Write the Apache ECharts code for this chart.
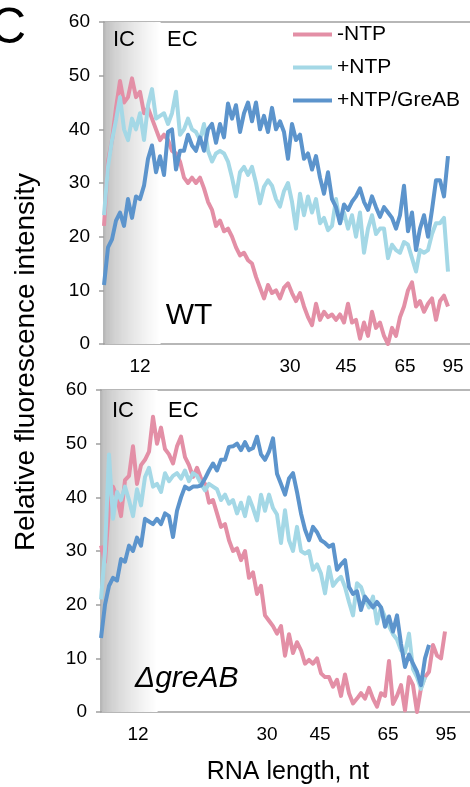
<!DOCTYPE html>
<html>
<head>
<meta charset="utf-8">
<script src="https://cdn.jsdelivr.net/npm/echarts@6/dist/echarts.min.js"></script>
<style>
html, body { margin: 0; padding: 0; background: #ffffff; }
#chart { width: 470px; height: 787px; }
</style>
</head>
<body>
<div id="chart"></div>
<script>
// Fluorescence profiles along the gel lane (one value per lane step), WT and ΔgreAB.
const seriesNames = ['-NTP', '+NTP', '+NTP/GreAB'];
const seriesColors = ['#e38fa6', '#a4d8e6', '#5c94cc'];

// WT panel
const wtMinusNTP = [22,34,38,44,49,45,46,49.5,46,47, 43,44,42,40,38,39,38,36,35.5,34,
  31,30,31,30,31,29,26.5,25,22,23, 21,21.5,20,18,16.5,17,15.6,15,12.5,10.5,
  8.5,11,9.5,10,8.5,10.5,11.3,9.5,8,9.5, 7,5,3.5,7.5,4.5,6,5,5.5,4.5,5.5,
  4,7.5,4,4.5,1,4,1.5,6,3,4, 1.5,0,3,1.5,5,7,10,11.5,7,8, 6,7.5,8.5,4.5,8,9,7];
const wtPlusNTP = [24,33,38,41.7,46,40,38,42,40,43, 38,44.5,47.5,42,42.5,43,41,43,47,39,
  40,42,40,39.5,38,41,36,34,35.5,36, 35.5,34,31,27.5,32,33,31.5,33,30,26.2,
  29.3,30.5,29.5,27,25.6,28.5,30,26.5,21.5,28, 24,27.5,24.5,27,22.5,23.5,21.2,22,27,22.5,
  24.5,21.5,24,20,24.5,17,21.5,24,20.5,21.5, 21.5,16,18.5,17.5,17,19,18.5,16,13.5,17.5,
  17,17.5,20.5,22.5,22.5,23.5,13.5];
const wtGreAB = [11,18,19.5,23,24.5,22,27,23.5,27.5,27, 29.5,34.5,37,32,35,31.5,39.5,40,32.5,36,
  36,39,37,36,38.5,36,40,41,37.5,41, 38.5,44.8,42,44.5,39.5,43,45,41.5,45,40,
  42.5,39.5,44,40,41.5,39.5,34.5,41,38,39, 34.5,35.5,32.5,35,31,28,32,27,25.5,22.5,
  26,25,26.5,27.5,29,26.5,25,27.5,25.5,23.7, 25.5,24.5,23.5,21.5,24,29.5,21,24.5,17.5,21.5,
  24,20,25,30.5,30.5,27.5,35];

// ΔgreAB panel
const delMinusNTP = [31,28,38,42,40,36.5,43.2,44,49.5,42.5, 46,47,48.5,55,50,53,49,48,46.3,49.5,
  51.3,47.5,46,43.8,45.5,43.5,42.5,39,39.5,37, 34.5,35,32,30,30.5,28.3,30,25,26,22,
  23.5,18,17,16,14.6,16,10.5,14.5,11,13, 11.5,9,9.7,9,10,7.2,6.5,6.5,4.7,6,
  3,7,3.5,1.6,2.5,3.5,2.5,4.5,2.5,1, 3.5,3,9.5,1.5,3,5,0.3,6.5,5,0,
  4.5,6.5,7.5,12.5,10.5,10,15];
const delPlusNTP = [21,30,48,36,41,39.5,42,39.5,36.5,41.5, 38.5,43.8,45.5,42,42.5,41,44.5,43,44,44.5,
  43.5,45,43,44.5,44,42.5,41.3,42.5,42,41.5, 39.5,40.5,38.8,39.5,37,39,36.5,40,38,35.7,
  40.5,37.5,40.5,38,36.8,31.5,37.6,32,30,34.5, 30,29.5,30,26.5,27.5,25.8,22.1,27,23.5,24.5,
  25.2,23.3,20.5,18,24,23.3,21,19.5,21.5,16.5, 19.5,17.7,16,14.5,13.5,11.5,11,14.6,8,6.5,
  4.3,6.5];
const delGreAB = [13.8,20,23.5,25,24.5,28.5,28,31,30,32.5, 31,36,35.5,35,36,35,37,36.5,32.6,37.5,
  40,42,41.5,42,42,42.2,43.5,45,46.3,45, 47,47,49.4,49.5,50,48.8,50.3,48.8,49.2,51.3,
  48,47,48.5,51,44.4,42.5,40.5,43.5,44.5,41, 37,34,32,34.5,33.5,32,31.5,30.8,31.2,26.5,
  27.5,28.3,23.3,22,22.5,19,21.5,20.5,19.5,20.5, 19.5,15.9,17.8,15,18,12.7,8.4,10.7,9,7.5,
  5,10,12.5];

// RNA length markers along each lane
const tickLabels = ['12', '30', '45', '65', '95'];
const wtTickPos = [9, 46.5, 60.5, 75.25, 87.25];
const delTickPos = [9.25, 41.5, 54.75, 71.75, 86.25];
// initiation-complex zone (lane start to this step)
const icZone = [[0, 14]];

const FONT = '"Liberation Sans", Arial, Helvetica, sans-serif';
const AXIS_GRAY = '#a0a0a0';

const chart = echarts.init(document.getElementById('chart'), null, { renderer: 'canvas' });
const toPairs = arr => arr.map((v, i) => [i, v]);

function labelFor(positions) {
  return function (v) {
    let best = 0;
    positions.forEach((p, k) => { if (Math.abs(p - v) < Math.abs(positions[best] - v)) best = k; });
    return tickLabels[best];
  };
}

function bottomXAxis(grid, max, positions) {
  return {
    gridIndex: grid, type: 'value', min: 0, max: max, position: 'bottom',
    axisLine: { show: true, onZero: false, lineStyle: { color: AXIS_GRAY, width: 1.5 } },
    axisTick: { show: false },
    splitLine: { show: false },
    axisLabel: {
      customValues: positions, formatter: labelFor(positions),
      fontSize: 19, color: '#000', margin: 13, fontFamily: FONT
    }
  };
}
function topXAxis(grid, max) {
  return {
    gridIndex: grid, type: 'value', min: 0, max: max, position: 'top',
    axisLine: { show: true, onZero: false, lineStyle: { color: AXIS_GRAY, width: 1.5 } },
    axisTick: { show: false }, axisLabel: { show: false }, splitLine: { show: false }
  };
}
function yAxis(grid) {
  return {
    gridIndex: grid, type: 'value', min: 0, max: 60, interval: 10,
    axisLine: { show: true, lineStyle: { color: AXIS_GRAY, width: 1.5 } },
    axisTick: { show: true, inside: false, length: 5, lineStyle: { color: AXIS_GRAY, width: 1.5 } },
    splitLine: { show: false },
    axisLabel: { fontSize: 19, color: '#000', margin: 14, fontFamily: FONT }
  };
}

// grey fade marking the initiation-complex zone, drawn as thin solid strips
const FADE_STRIPS = 48;
function zoneSeries(grid, xIdx) {
  return {
    type: 'custom', name: 'IC zone', xAxisIndex: xIdx, yAxisIndex: grid,
    silent: true, z: 1, data: icZone,
    renderItem: function (params, api) {
      const a = api.coord([api.value(0), 60]);
      const b = api.coord([api.value(1), 0]);
      const x0 = a[0] + 1, w = b[0] - x0, h = b[1] - a[1];
      const children = [];
      for (let j = 0; j < FADE_STRIPS; j++) {
        const t = (j + 0.5) / FADE_STRIPS;
        const g = Math.round(186 + 69 * Math.pow(t, 0.65));
        children.push({
          type: 'rect',
          shape: { x: x0 + (w * j) / FADE_STRIPS, y: a[1], width: w / FADE_STRIPS + 0.6, height: h },
          style: { fill: 'rgb(' + g + ',' + g + ',' + g + ')' }
        });
      }
      return { type: 'group', children: children };
    }
  };
}

function panelSeries(grid, xIdx, arrays) {
  return arrays.map((arr, k) => ({
    type: 'line', name: seriesNames[k], data: toPairs(arr),
    xAxisIndex: xIdx, yAxisIndex: grid,
    symbol: 'none', showSymbol: false, z: 3 + k,
    lineStyle: { width: 4, color: seriesColors[k], join: 'round' },
    itemStyle: { color: seriesColors[k] },
    emphasis: { disabled: true }
  }));
}

const option = {
  animation: false,
  backgroundColor: '#ffffff',
  grid: [
    { left: 104, top: 22, width: 366, height: 322 },
    { left: 101, top: 390, width: 369, height: 322 }
  ],
  xAxis: [
    bottomXAxis(0, 91.5, wtTickPos), topXAxis(0, 91.5),
    bottomXAxis(1, 92.25, delTickPos), topXAxis(1, 92.25)
  ],
  yAxis: [yAxis(0), yAxis(1)],
  legend: {
    data: seriesNames, orient: 'vertical', left: 288, top: 19,
    itemWidth: 39, itemHeight: 4, icon: 'rect', itemGap: 12,
    selectedMode: false,
    textStyle: { fontSize: 21, color: '#000', fontFamily: FONT }
  },
  series: [
    zoneSeries(0, 0),
    ...panelSeries(0, 0, [wtMinusNTP, wtPlusNTP, wtGreAB]),
    zoneSeries(1, 2),
    ...panelSeries(1, 2, [delMinusNTP, delPlusNTP, delGreAB])
  ],
  graphic: [
    { type: 'text', x: -10, y: 29, z: 10, style: { text: 'C', font: '50px ' + FONT, fill: '#000', textAlign: 'left', textVerticalAlign: 'middle' } },
    { type: 'text', x: 26, y: 362, rotation: Math.PI / 2, z: 10, style: { text: 'Relative fluorescence intensity', font: '28px ' + FONT, fill: '#000', textAlign: 'center', textVerticalAlign: 'middle' } },
    { type: 'text', x: 288, y: 772, z: 10, style: { text: 'RNA length, nt', font: '25px ' + FONT, fill: '#000', textAlign: 'center', textVerticalAlign: 'middle' } },
    { type: 'text', x: 113, y: 40, z: 10, style: { text: 'IC', font: '22px ' + FONT, fill: '#000', textAlign: 'left', textVerticalAlign: 'middle' } },
    { type: 'text', x: 167, y: 40, z: 10, style: { text: 'EC', font: '22px ' + FONT, fill: '#000', textAlign: 'left', textVerticalAlign: 'middle' } },
    { type: 'text', x: 112, y: 411, z: 10, style: { text: 'IC', font: '22px ' + FONT, fill: '#000', textAlign: 'left', textVerticalAlign: 'middle' } },
    { type: 'text', x: 168, y: 411, z: 10, style: { text: 'EC', font: '22px ' + FONT, fill: '#000', textAlign: 'left', textVerticalAlign: 'middle' } },
    { type: 'text', x: 189, y: 316, z: 10, style: { text: 'WT', font: '30px ' + FONT, fill: '#000', textAlign: 'center', textVerticalAlign: 'middle' } },
    { type: 'text', x: 135, y: 679, z: 10, style: { text: 'ΔgreAB', font: 'italic 30px ' + FONT, fill: '#000', textAlign: 'left', textVerticalAlign: 'middle' } }
  ]
};

chart.setOption(option);
</script>
</body>
</html>
